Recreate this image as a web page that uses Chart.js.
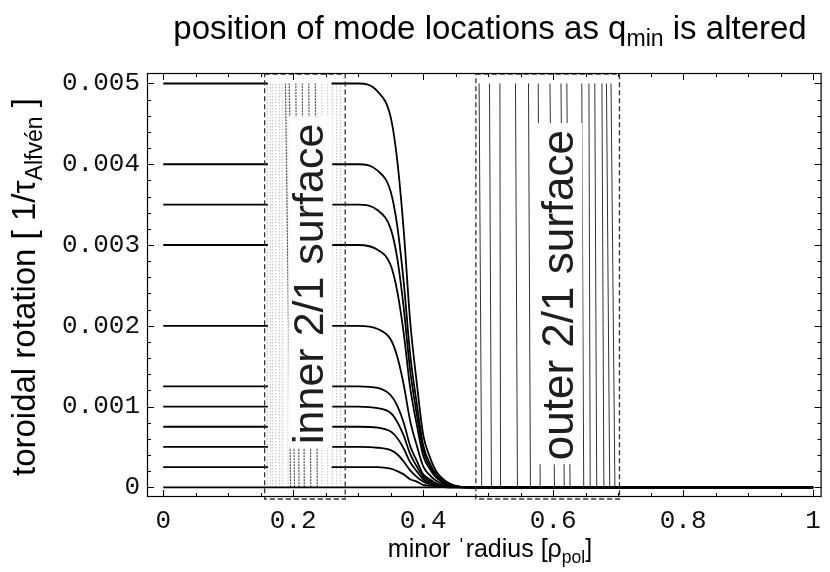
<!DOCTYPE html>
<html>
<head>
<meta charset="utf-8">
<script src="https://cdn.jsdelivr.net/npm/chart.js@4/dist/chart.umd.min.js"></script>
<style>
  html, body { margin: 0; padding: 0; background: #fff; }
  #wrap { width: 830px; height: 572px; position: relative; }
</style>
</head>
<body>
<div id="wrap"><canvas id="c" width="830" height="572"></canvas></div>
<script>
// Radial grid of the rotation profiles (rho_pol)
const radius = [0, 0.30, 0.33, 0.35, 0.36, 0.37, 0.38, 0.39, 0.40, 0.41, 0.42, 0.44, 0.47, 1.0];

// Toroidal rotation profiles [1/tau_Alfven], one per core rotation value
const rot050 = [0.005, 0.005, 0.0049, 0.00458, 0.00405, 0.00318, 0.00205, 0.0013, 0.00065, 0.00038, 0.0002, 0.00005, 0, 0];
const rot040 = [0.004, 0.004, 0.00392, 0.00366, 0.00324, 0.00254, 0.00164, 0.00104, 0.00052, 0.0003, 0.00016, 0.00004, 0, 0];
const rot035 = [0.0035, 0.0035, 0.00343, 0.0032, 0.00284, 0.00222, 0.00144, 0.00091, 0.00046, 0.00026, 0.00014, 0.00004, 0, 0];
const rot030 = [0.003, 0.003, 0.00294, 0.00275, 0.00243, 0.00191, 0.00123, 0.00078, 0.00039, 0.00023, 0.00012, 0.00003, 0, 0];
const rot020 = [0.002, 0.002, 0.00196, 0.00183, 0.00162, 0.00127, 0.00082, 0.00052, 0.00026, 0.00015, 0.00008, 0.00002, 0, 0];
const rot0125 = [0.00125, 0.00125, 0.00123, 0.00114, 0.00101, 0.0008, 0.00051, 0.00033, 0.00016, 0.0001, 0.00005, 0.00001, 0, 0];
const rot010 = [0.001, 0.001, 0.00098, 0.00092, 0.00081, 0.00064, 0.00041, 0.00026, 0.00013, 0.00008, 0.00004, 0.00001, 0, 0];
const rot0075 = [0.00075, 0.00075, 0.00074, 0.00069, 0.00061, 0.00048, 0.00031, 0.0002, 0.0001, 0.00006, 0.00003, 0.00001, 0, 0];
const rot005 = [0.0005, 0.0005, 0.00049, 0.00046, 0.00041, 0.00032, 0.00021, 0.00013, 0.00007, 0.00004, 0.00002, 0, 0, 0];
const rot0025 = [0.00025, 0.00025, 0.00025, 0.00023, 0.0002, 0.00016, 0.0001, 0.00007, 0.00003, 0.00002, 0.00001, 0, 0, 0];
const rot000 = [0, 0, 0, 0, 0, 0, 0, 0, 0, 0, 0, 0, 0, 0];

// Profiles with a non-zero core are left out across the inner surface window
const gappedProfiles = [rot050, rot040, rot035, rot030, rot020, rot0125, rot010, rot0075, rot005, rot0025];
const gapFrom = 0.161, gapTo = 0.259;

// Mode positions: radius at zero rotation (bottom) and at 0.005 (top)
const outerModeBottom = [0.490, 0.505, 0.519, 0.545, 0.565, 0.580, 0.602, 0.617, 0.626, 0.647, 0.657, 0.667, 0.678, 0.687, 0.695];
const outerModeTop    = [0.486, 0.502, 0.518, 0.542, 0.562, 0.577, 0.595, 0.612, 0.621, 0.644, 0.655, 0.664, 0.675, 0.682, 0.689];
const innerModeBottom = [0.196, 0.202, 0.209, 0.217, 0.227, 0.237];
const innerModeTop    = [0.188, 0.194, 0.204, 0.214, 0.224, 0.234];
const innerFaintX = [0.160, 0.165, 0.168, 0.173, 0.179, 0.183, 0.192, 0.244, 0.253, 0.260, 0.267, 0.273];
const modeSpan = [0, 0.005];

// Surface windows (radius range)
const innerWindow = [0.156, 0.280];
const outerWindow = [0.481, 0.702];

// Axis ticks
const xTicks = [0, 0.2, 0.4, 0.6, 0.8, 1];
const xTickLabels = ['0', '0.2', '0.4', '0.6', '0.8', '1'];
const yTicks = [0, 0.001, 0.002, 0.003, 0.004, 0.005];
const yTickLabels = ['0', '0.001', '0.002', '0.003', '0.004', '0.005'];

const SANS = '"Liberation Sans", Arial, Helvetica, sans-serif';
const MONO = '"Liberation Mono", "Courier New", monospace';

function profilePoints(values, gapped) {
  const pts = [];
  radius.forEach((r, i) => {
    if (gapped && i === 1) {
      pts.push({ x: gapFrom, y: values[0] });
      pts.push({ x: (gapFrom + gapTo) / 2, y: null });
      pts.push({ x: gapTo, y: values[0] });
    }
    pts.push({ x: r, y: values[i] });
  });
  return pts;
}

const datasets = [];
gappedProfiles.forEach(p => datasets.push({
  data: profilePoints(p, true), borderColor: '#000', borderWidth: 1.8,
  showLine: true, pointRadius: 0, spanGaps: false, cubicInterpolationMode: 'monotone', order: 1
}));
datasets.push({
  data: profilePoints(rot000, false), borderColor: '#000', borderWidth: 1.8,
  showLine: true, pointRadius: 0, order: 1
});
innerFaintX.forEach(x => datasets.push({
  data: [{ x: x, y: modeSpan[0] }, { x: x, y: modeSpan[1] }],
  borderColor: '#a0a0a0', borderWidth: 1, borderDash: [1, 2],
  showLine: true, pointRadius: 0, order: 3
}));
innerModeBottom.forEach((x, i) => datasets.push({
  data: [{ x: x, y: modeSpan[0] }, { x: innerModeTop[i], y: modeSpan[1] }],
  borderColor: '#505050', borderWidth: 1.2, borderDash: [2, 1],
  showLine: true, pointRadius: 0, order: 2
}));
outerModeBottom.forEach((x, i) => datasets.push({
  data: [{ x: x, y: modeSpan[0] }, { x: outerModeTop[i], y: modeSpan[1] }],
  borderColor: '#333', borderWidth: 1,
  showLine: true, pointRadius: 0, order: 2
}));

// Draw a string with an optional subscript part
function richWidth(ctx, parts, size) {
  let w = 0;
  parts.forEach(p => {
    ctx.font = (p.sub ? size * 0.7 : size) + 'px ' + SANS;
    w += ctx.measureText(p.t).width;
  });
  return w;
}
function drawRich(ctx, parts, size, x, y) {
  const w = richWidth(ctx, parts, size);
  let cx = x - w / 2;
  parts.forEach(p => {
    const s = p.sub ? size * 0.7 : size;
    ctx.font = s + 'px ' + SANS;
    ctx.fillText(p.t, cx, y + (p.sub ? size * 0.22 : 0));
    cx += ctx.measureText(p.t).width;
  });
}

const decorations = {
  id: 'decorations',
  afterDatasetsDraw(chart) {
    const { ctx, chartArea: a, scales: { x, y } } = chart;
    ctx.save();
    // dashed surface windows
    ctx.strokeStyle = '#333';
    ctx.lineWidth = 1.3;
    ctx.setLineDash([5, 3]);
    [innerWindow, outerWindow].forEach(w => {
      const x0 = x.getPixelForValue(w[0]), x1 = x.getPixelForValue(w[1]);
      ctx.strokeRect(x0, a.top + 1, x1 - x0, a.bottom - a.top + 1);
    });
    ctx.setLineDash([]);
    // rotated surface labels on white boxes
    const labels = [
      { t: 'inner 2/1 surface', r: 0.2455, v: 0.00252, fs: 43 },
      { t: 'outer 2/1 surface', r: 0.6300, v: 0.00238, fs: 44 }
    ];
    labels.forEach(l => {
      const fs = l.fs;
      ctx.font = fs + 'px ' + SANS;
      const len = ctx.measureText(l.t).width;
      const bx = x.getPixelForValue(l.r);
      const cy = y.getPixelForValue(l.v);
      ctx.fillStyle = '#fff';
      ctx.fillRect(bx - fs * 0.80, cy - len / 2 - 7, fs * 1.02, len + 11);
      ctx.save();
      ctx.translate(bx, cy);
      ctx.rotate(-Math.PI / 2);
      ctx.fillStyle = '#1e1e1e';
      ctx.textAlign = 'center';
      ctx.textBaseline = 'alphabetic';
      ctx.fillText(l.t, 0, 0);
      ctx.restore();
    });
    ctx.restore();
  },
  afterDraw(chart) {
    const { ctx, chartArea: a, scales: { x, y } } = chart;
    ctx.save();
    // frame
    ctx.strokeStyle = '#000';
    ctx.lineWidth = 1.2;
    ctx.strokeRect(a.left + 0.5, a.top + 0.5, a.right - a.left - 1, a.bottom - a.top - 1);
    // inward ticks on all four sides
    ctx.lineWidth = 1;
    ctx.beginPath();
    for (let k = 0; k <= 20; k++) {
      const px = Math.round(x.getPixelForValue(k * 0.05)) + 0.5;
      const len = k % 4 === 0 ? 7 : 4;
      ctx.moveTo(px, a.bottom); ctx.lineTo(px, a.bottom - len);
      ctx.moveTo(px, a.top); ctx.lineTo(px, a.top + len);
    }
    for (let k = 0; k <= 25; k++) {
      const py = Math.round(y.getPixelForValue(k * 0.0002)) + 0.5;
      const len = k % 5 === 0 ? 7 : 4;
      ctx.moveTo(a.left, py); ctx.lineTo(a.left + len, py);
      ctx.moveTo(a.right, py); ctx.lineTo(a.right - len, py);
    }
    ctx.stroke();
    // titles
    ctx.fillStyle = '#000';
    ctx.textAlign = 'left';
    ctx.textBaseline = 'alphabetic';
    drawRich(ctx, [{ t: 'position of mode locations as q' }, { t: 'min', sub: true }, { t: ' is altered' }], 33, 490, 39);
    drawRich(ctx, [{ t: 'minor \u02c8radius [\u03c1' }, { t: 'pol', sub: true }, { t: ']' }], 25, 490, 557);
    ctx.save();
    ctx.translate(35, 287);
    ctx.rotate(-Math.PI / 2);
    drawRich(ctx, [{ t: 'toroidal rotation [ 1/\u03c4' }, { t: 'Alfv\u00e9n', sub: true }, { t: ' ]' }], 33, 0, 0);
    ctx.restore();
    ctx.restore();
  }
};

new Chart(document.getElementById('c'), {
  type: 'scatter',
  data: { datasets },
  options: {
    responsive: false,
    animation: false,
    events: [],
    layout: { padding: { top: 73, right: 4, left: 0, bottom: 0 } },
    plugins: { legend: { display: false }, tooltip: { enabled: false }, title: { display: false } },
    scales: {
      x: {
        type: 'linear', min: -0.025, max: 1.013,
        grid: { display: false, drawTicks: false },
        border: { display: false },
        afterBuildTicks: s => { s.ticks = xTicks.map(v => ({ value: v })); },
        afterFit: s => { s.height = 75; },
        ticks: {
          autoSkip: false, maxRotation: 0, padding: 9, color: '#111',
          font: { family: MONO, size: 26 },
          callback: v => xTickLabels[xTicks.indexOf(v)]
        }
      },
      y: {
        type: 'linear', min: -0.00012, max: 0.00513,
        grid: { display: false, drawTicks: false },
        border: { display: false },
        afterBuildTicks: s => { s.ticks = yTicks.map(v => ({ value: v })); },
        afterFit: s => { s.width = 147; },
        ticks: {
          autoSkip: false, padding: 7, color: '#111',
          font: { family: MONO, size: 26 },
          callback: v => yTickLabels[yTicks.indexOf(v)]
        }
      }
    }
  },
  plugins: [decorations]
});
</script>
</body>
</html>
